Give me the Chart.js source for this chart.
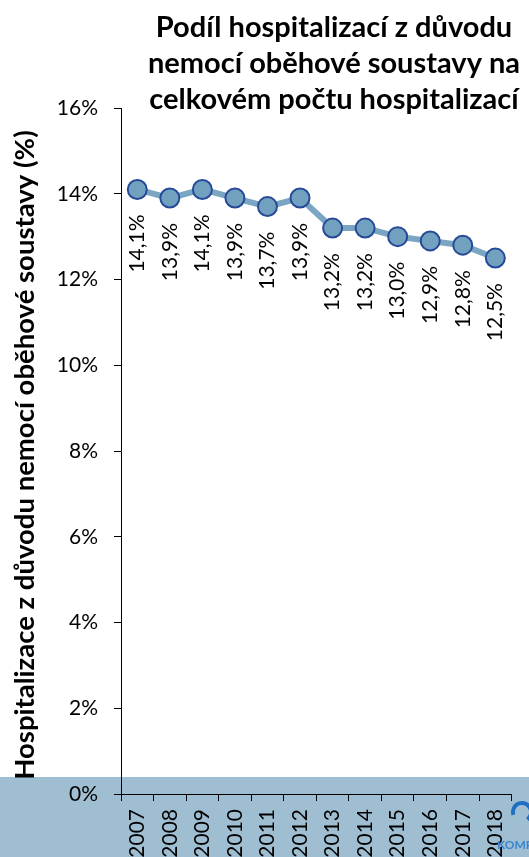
<!DOCTYPE html>
<html>
<head>
<meta charset="utf-8">
<script src="https://cdn.jsdelivr.net/npm/chart.js@4/dist/chart.umd.min.js"></script>
<style>
  html, body { margin: 0; padding: 0; background: #ffffff; }
  #wrap { position: relative; width: 529px; height: 857px; }
</style>
</head>
<body>
<div id="wrap"><canvas id="c" width="529" height="857"></canvas></div>
<script>
// Years and share of circulatory-disease hospitalisations (%)
const years = ['2007', '2008', '2009', '2010', '2011', '2012', '2013', '2014', '2015', '2016', '2017', '2018'];
const shares = [14.1, 13.9, 14.1, 13.9, 13.7, 13.9, 13.2, 13.2, 13.0, 12.9, 12.8, 12.5];
const titleLines = ['Podíl hospitalizací z důvodu', 'nemocí oběhové soustavy na', 'celkovém počtu hospitalizací'];
const yAxisTitle = 'Hospitalizace z důvodu nemocí oběhové soustavy (%)';
const yTicks = [0, 2, 4, 6, 8, 10, 12, 14, 16];

const FONT = 'Lato, "Open Sans", sans-serif';

// pale blue strip across the bottom and the small logo corner
const backdrop = {
  id: 'backdrop',
  beforeDraw(chart) {
    const ctx = chart.ctx;
    ctx.save();
    ctx.fillStyle = '#9fbed2';
    ctx.fillRect(0, 777, chart.width, chart.height - 777);
    ctx.restore();
  },
  afterDraw(chart) {
    const ctx = chart.ctx;
    ctx.save();
    // logo fragment
    ctx.strokeStyle = '#1f6fc4';
    ctx.lineWidth = 4;
    ctx.beginPath();
    ctx.arc(522, 812, 9, Math.PI * 0.9, Math.PI * 2.3);
    ctx.stroke();
    ctx.fillStyle = '#3b86d0';
    ctx.font = 'bold 12px ' + FONT;
    ctx.textAlign = 'left';
    ctx.textBaseline = 'alphabetic';
    ctx.fillText('KOMP', 497, 849);
    ctx.restore();
  }
};

// chart heading and rotated y-axis title
const headings = {
  id: 'headings',
  afterDraw(chart) {
    const ctx = chart.ctx;
    ctx.save();
    ctx.fillStyle = '#000';
    ctx.font = 'bold 29px ' + FONT;
    ctx.textAlign = 'center';
    ctx.textBaseline = 'alphabetic';
    titleLines.forEach((t, i) => ctx.fillText(t, 334, 37 + i * 36));
    ctx.translate(34, 455);
    ctx.rotate(-Math.PI / 2);
    ctx.font = 'bold 27.5px ' + FONT;
    ctx.textBaseline = 'alphabetic';
    ctx.fillText(yAxisTitle, 0, 0);
    ctx.restore();
  }
};

// value labels under each point, reading upwards
const valueLabels = {
  id: 'valueLabels',
  afterDatasetsDraw(chart) {
    const ctx = chart.ctx;
    const meta = chart.getDatasetMeta(0);
    ctx.save();
    ctx.fillStyle = '#000';
    ctx.font = '21px ' + FONT;
    ctx.textAlign = 'right';
    ctx.textBaseline = 'middle';
    meta.data.forEach((pt, i) => {
      const txt = shares[i].toFixed(1).replace('.', ',') + '%';
      ctx.save();
      ctx.translate(pt.x, pt.y + 25);
      ctx.rotate(-Math.PI / 2);
      ctx.fillText(txt, 0, 0);
      ctx.restore();
    });
    ctx.restore();
  }
};

new Chart(document.getElementById('c'), {
  type: 'line',
  data: {
    labels: years,
    datasets: [{
      data: shares,
      borderColor: '#7aa6c3',
      borderWidth: 6,
      pointRadius: 9.5,
      pointHoverRadius: 9.5,
      pointBackgroundColor: '#71a1bf',
      pointBorderColor: '#264a98',
      pointBorderWidth: 2,
      tension: 0
    }]
  },
  options: {
    responsive: false,
    animation: false,
    events: [],
    layout: { padding: { top: 108, right: 3, left: 0, bottom: 0 } },
    plugins: { legend: { display: false }, tooltip: { enabled: false } },
    scales: {
      x: {
        offset: true,
        grid: { offset: true, drawOnChartArea: false, drawTicks: true, tickLength: 7, color: '#000', lineWidth: 1 },
        border: { color: '#000', width: 1 },
        ticks: { color: '#000', font: { family: FONT, size: 21 }, maxRotation: 90, minRotation: 90, padding: 8, autoSkip: false },
        afterFit(s) { s.height = 63; }
      },
      y: {
        min: 0, max: 16,
        afterBuildTicks(s) { s.ticks = yTicks.map(v => ({ value: v })); },
        grid: { drawOnChartArea: false, drawTicks: true, tickLength: 7, color: '#000', lineWidth: 1 },
        border: { color: '#000', width: 1 },
        ticks: { color: '#000', font: { family: FONT, size: 21 }, padding: 16, callback: v => v + '%' },
        afterFit(s) { s.width = 121; }
      }
    }
  },
  plugins: [backdrop, headings, valueLabels]
});
</script>
</body>
</html>
